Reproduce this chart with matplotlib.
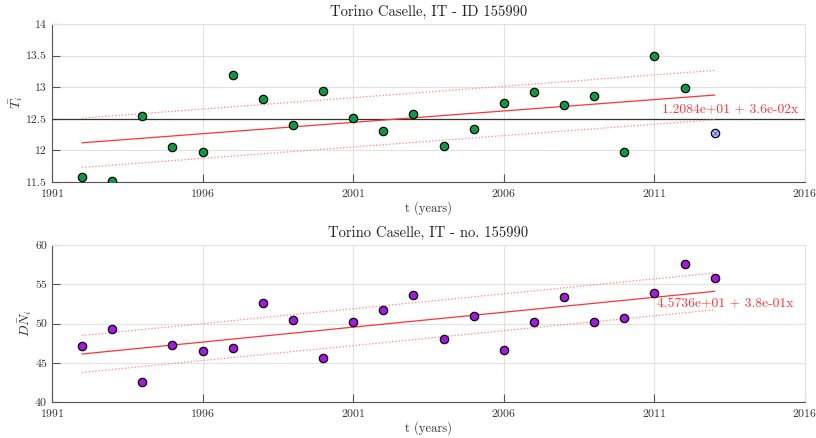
import numpy as np
import matplotlib
matplotlib.use('Agg')
import matplotlib.pyplot as plt
from matplotlib.ticker import FormatStrFormatter

plt.rcParams['font.family'] = 'cmr10'
plt.rcParams['mathtext.fontset'] = 'cm'
plt.rcParams['axes.formatter.use_mathtext'] = True

# yearly series, station 155990
years = np.arange(1992, 2014)
temp = [11.58, 11.51, 12.55, 12.06, 11.97, 13.19, 12.82, 12.40, 12.945, 12.51, 12.30,
        12.57, 12.07, 12.34, 12.755, 12.93, 12.72, 12.86, 11.98, 13.50, 12.99, 12.275]
dn = [47.16, 49.32, 42.58, 47.25, 46.48, 46.91, 52.67, 50.42, 45.64, 50.25, 51.74,
      53.64, 47.97, 51.02, 46.65, 50.25, 53.43, 50.25, 50.76, 53.90, 57.58, 55.85]

# linear fits, x = year - 1991
temp_fit = (1.2084e+01, 3.6e-02)
temp_band = 0.39
dn_fit = (4.5736e+01, 3.8e-01)
dn_band = 2.35

xticks = [1991, 1996, 2001, 2006, 2011, 2016]

fig = plt.figure(figsize=(8.16, 4.38), dpi=100)
ax1 = fig.add_axes([0.0637, 0.5845, 0.9228, 0.3607])
ax2 = fig.add_axes([0.0637, 0.0822, 0.9228, 0.3584])


def style(ax, ylim, yticks, fmt):
    ax.set_xlim(1991, 2016)
    ax.set_ylim(*ylim)
    ax.set_xticks(xticks)
    ax.set_yticks(yticks)
    ax.yaxis.set_major_formatter(FormatStrFormatter(fmt))
    ax.grid(True, color='#e2e2e2', lw=0.8)
    ax.set_axisbelow(True)
    for s in ['top', 'right']:
        ax.spines[s].set_color('#e2e2e2')
    for s in ['left', 'bottom']:
        ax.spines[s].set_color('#555555')
    ax.tick_params(direction='in', length=6, width=0.8, colors='#555555',
                   labelcolor='#333333', labelsize=8.5)
    ax.set_xlabel('t (years)', fontsize=9, color='#333333', labelpad=2)


def fit_lines(ax, fit, band):
    xx = years - 1991
    yy = fit[0] + fit[1] * xx
    ax.plot(years, yy, color='#ff3333', lw=0.9, zorder=2)
    ax.plot(years, yy + band, color='#ff8080', lw=0.9, ls=':', zorder=2)
    ax.plot(years, yy - band, color='#ff8080', lw=0.9, ls=':', zorder=2)
    return '%.4e + %.1ex' % fit


def dots(ax, x, y, fc):
    ax.plot(x, y, 'o', ms=6, mfc=fc, mec='black', mew=0.9, ls='none', zorder=3)
    ax.plot(x, y, 'x', ms=2.8, color='#3a5fb0', mew=0.6, ls='none', zorder=4)


# top panel: mean temperature
style(ax1, (11.5, 14), np.arange(11.5, 14.01, 0.5), '%g')
ax1.axhline(np.mean(temp[:-1]), color='#333333', lw=0.9, zorder=2)
txt = fit_lines(ax1, temp_fit, temp_band)
dots(ax1, years[:-1], temp[:-1], '#00b020')
dots(ax1, years[-1:], temp[-1:], '#b8b8ff')
ax1.text(2011.25, 12.66, txt, color='#ff3333', fontsize=9.8, va='center')
ax1.set_title('Torino Caselle, IT - ID 155990', fontsize=10.5, color='#222222', pad=6)
ax1.set_ylabel(r'$\bar{T_i}$', fontsize=10, color='#333333', labelpad=1)

# bottom panel: DN
style(ax2, (40, 60), np.arange(40, 61, 5), '%g')
txt = fit_lines(ax2, dn_fit, dn_band)
dots(ax2, years, dn, '#cc00ee')
ax2.text(2011.1, 52.46, txt, color='#ff3333', fontsize=9.8, va='center')
ax2.set_title('Torino Caselle, IT - no. 155990', fontsize=10.5, color='#222222', pad=6)
ax2.set_ylabel(r'$\bar{DN_i}$', fontsize=10, color='#333333', labelpad=1)

plt.savefig('out.png', dpi=100)
